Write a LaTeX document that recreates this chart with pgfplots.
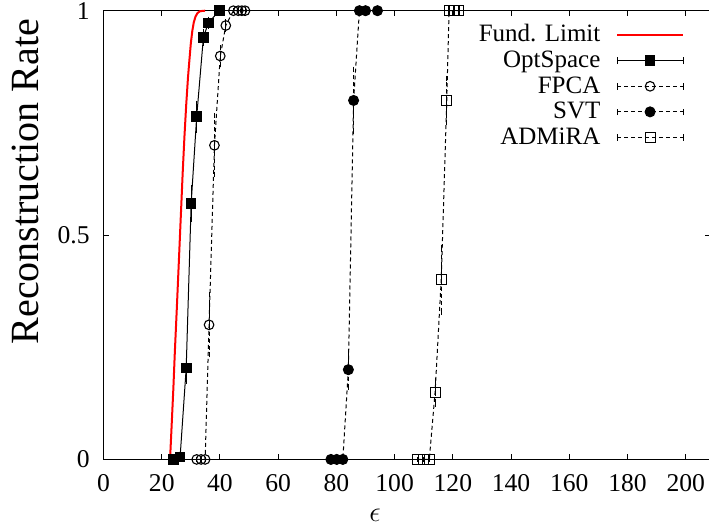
\documentclass[border=0pt]{standalone}
\usepackage{fontspec}
\setmainfont{Liberation Serif}
\usepackage{pgfplots}
\pgfplotsset{compat=1.18}

% Reconstruction rate of matrix-completion algorithms versus epsilon
% columns: x = epsilon, y = reconstruction rate, e = half-width of error bar
\pgfplotsset{
  plain line legend/.style={legend image code/.code={\draw[##1] (0pt,0pt) -- (33pt,0pt);}},
}

\begin{document}
\begin{tikzpicture}
\begin{axis}[
  name=ax,
  scale only axis,
  width=303.25pt, height=224.3pt,
  xmin=0, xmax=208.4, ymin=0, ymax=1,
  clip=false,
  axis line style={line width=0.5pt},
  xtick={0,20,...,200},
  ytick={0,0.5,1},
  yticklabels={0,0.5,1},
  tick align=inside,
  major tick length=2.5pt,
  tick style={line width=0.5pt, black},
  /pgf/number format/assume math mode=true,
  ticklabel style={font=\fontsize{12.8}{14}\selectfont},
  xticklabel style={yshift=-4pt},
  yticklabel style={xshift=-3.4pt},
  xlabel={$\epsilon$},
  xlabel style={at={(axis description cs:0.4477,-0.1242)}, anchor=center, font=\fontsize{14}{16}\selectfont},
  ylabel={Reconstruction Rate},
  ylabel style={at={(axis description cs:-0.1294,0.619)}, anchor=center, font=\fontsize{20}{24}\selectfont},
  legend plot pos=right,
  legend cell align=right,
  legend style={draw=none, fill=none, at={(axis description cs:1,1)}, anchor=north east,
    xshift=-9.85pt, yshift=-4.75pt, font=\fontsize{12.5}{14}\selectfont,
    nodes={inner sep=0pt}, column sep=7.85pt, row sep=3pt},
  legend image code/.code={
    \draw[mark repeat=2,mark phase=2,#1] plot coordinates {(0pt,0pt) (16.5pt,0pt) (33pt,0pt)};
    \draw[solid, black, line width=0.4pt] (0pt,-1.65pt) -- (0pt,1.65pt) (33pt,-1.65pt) -- (33pt,1.65pt);
  },
  error bars/error bar style={line width=0.4pt},
  error bars/error mark options={line width=0.4pt, mark size=1.25pt},
]

% fundamental limit
\addplot[red, line width=1pt, mark=none, plain line legend] coordinates {
  (22.85,0) (23.5,0.09) (24.0,0.16) (24.5,0.24) (25.15,0.333) (26.0,0.46)
  (26.6,0.55) (27.2,0.64) (27.8,0.72) (28.4,0.79) (29.0,0.85) (29.5,0.89)
  (30.0,0.928) (30.5,0.955) (31.0,0.974) (31.6,0.987) (32.3,0.995) (33.2,0.999) (34.9,1.0)
};
\addlegendentry{Fund. Limit}

% OptSpace
\addplot[black, line width=0.5pt, mark=square*, mark size=2.4pt, mark options={solid},
  error bars/.cd, y dir=both, y explicit] table[x=x, y=y, y error=e] {
x     y      e
24.0  0      0
26.3  0.005  0.005
28.4  0.204  0.03
30.1  0.57   0.035
32.0  0.764  0.03
34.3  0.94   0.013
36.0  0.973  0.008
39.8  1      0
};
\addlegendentry{OptSpace}

% FPCA
\addplot[black, line width=0.5pt, dash pattern=on 2pt off 1.5pt, mark=o, mark size=2.4pt, mark options={solid, line width=0.55pt},
  error bars/.cd, y dir=both, y explicit] table[x=x, y=y, y error=e] {
x     y      e
32.0  0      0
33.5  0      0
34.9  0      0
36.25 0.30   0.067
38.1  0.70   0.066
40.1  0.899  0.018
42.0  0.967  0.008
44.6  1      0
46.3  1      0
47.5  1      0
48.6  1      0
};
\addlegendentry{FPCA}

% SVT
\addplot[black, line width=0.5pt, dash pattern=on 2pt off 1.5pt, mark=*, mark size=2.5pt, mark options={solid},
  error bars/.cd, y dir=both, y explicit] table[x=x, y=y, y error=e] {
x     y      e
78.1  0      0
80.1  0      0
82.2  0      0
84.1  0.2    0.04
85.9  0.8    0.07
87.9  1      0
90.0  1      0
94.1  1      0
};
\addlegendentry{SVT}

% ADMiRA
\addplot[black, line width=0.5pt, dash pattern=on 2pt off 1.5pt, mark=square, mark size=2.5pt, mark options={solid, line width=0.55pt},
  error bars/.cd, y dir=both, y explicit] table[x=x, y=y, y error=e] {
x     y      e
107.7 0      0
109.8 0      0
111.9 0      0
113.9 0.15   0.027
116.0 0.40   0.073
117.9 0.80   0.05
118.7 1      0
120.4 1      0
121.9 1      0
};
\addlegendentry{ADMiRA}
\end{axis}
\pgfresetboundingbox
\path ([xshift=-51.75pt,yshift=-34.85pt]ax.south west) rectangle ([xshift=-0.6pt,yshift=5.35pt]ax.north east);
\end{tikzpicture}
\end{document}
